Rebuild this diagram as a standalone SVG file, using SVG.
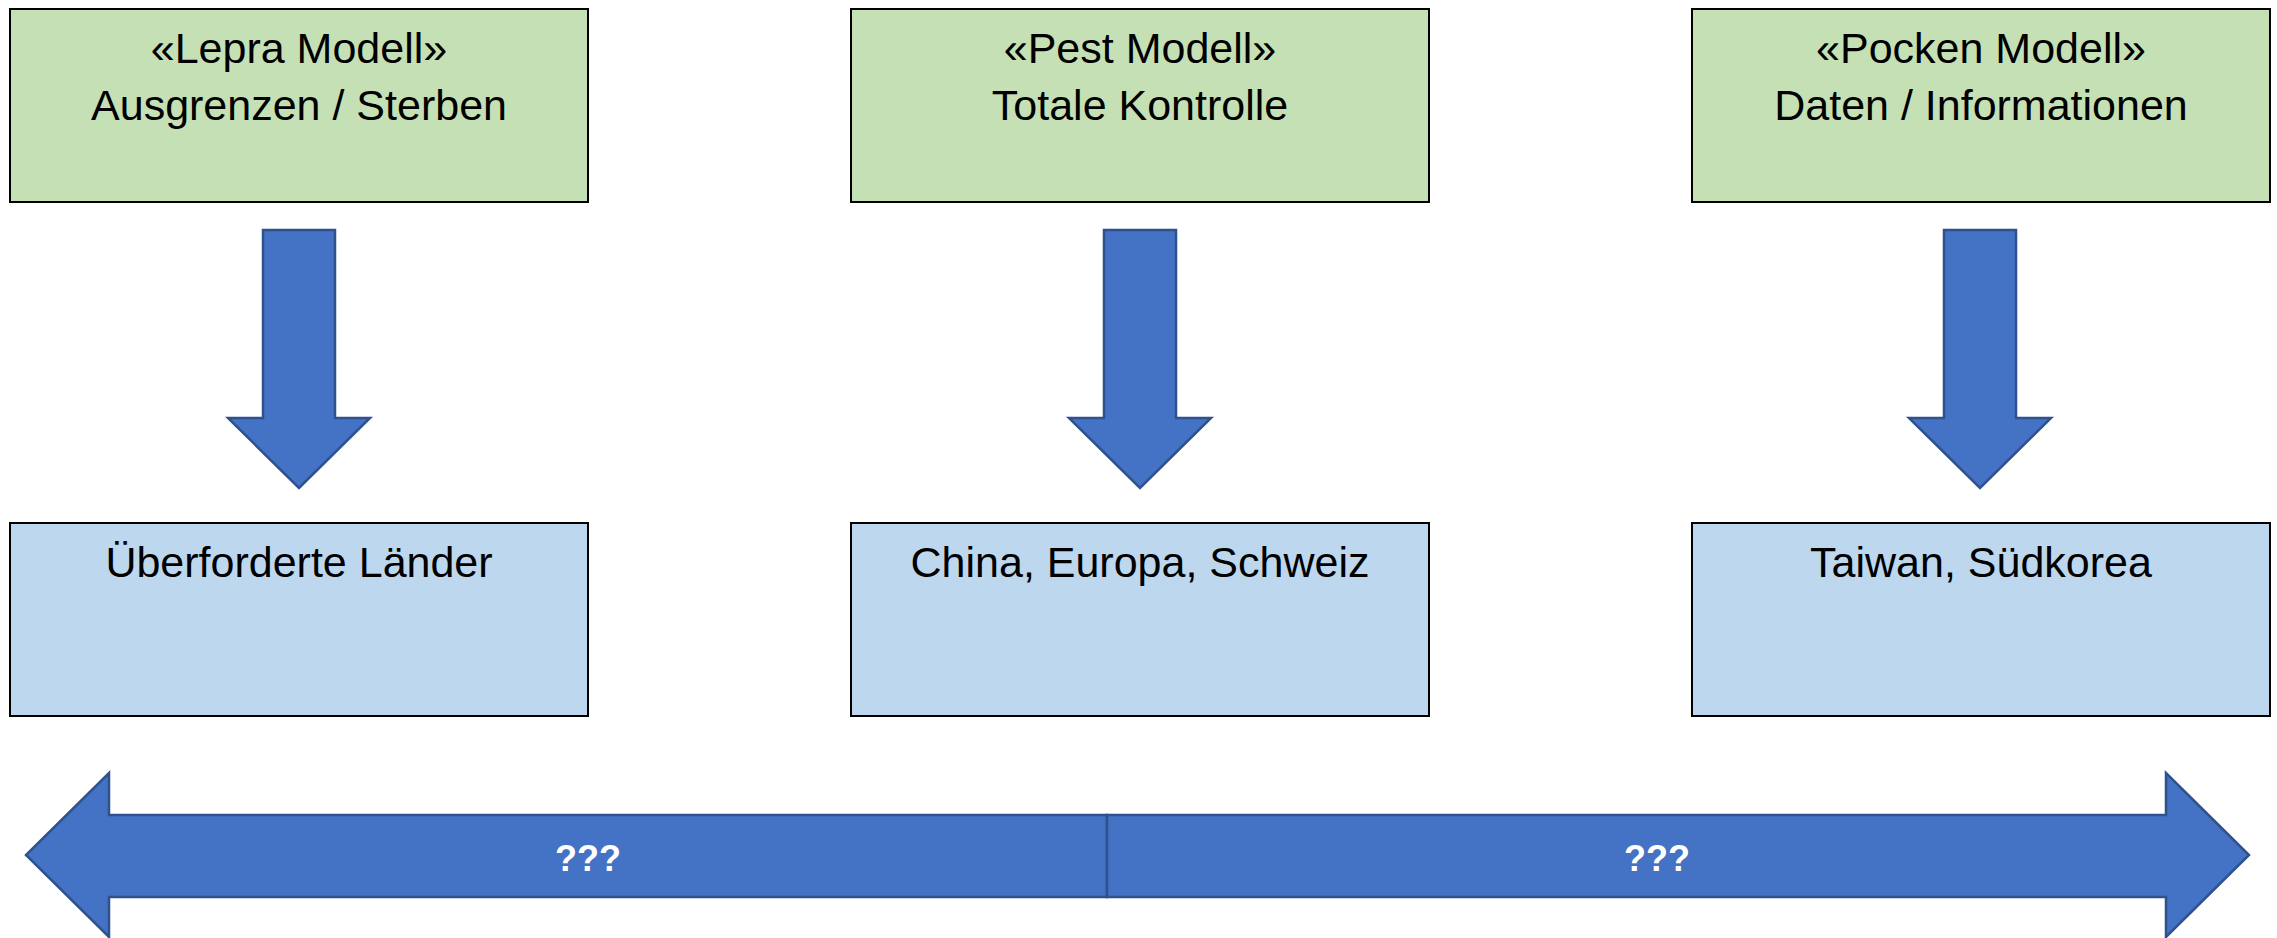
<svg xmlns="http://www.w3.org/2000/svg" width="2277" height="938" viewBox="0 0 2277 938">
<style>
.top{fill:#C5E0B4;stroke:#000;stroke-width:2}
.bot{fill:#BDD7EE;stroke:#000;stroke-width:2}
.arr{fill:#4472C4;stroke:#2F528F;stroke-width:2.5;stroke-linejoin:miter}
.t{font-family:"Liberation Sans",Arial,sans-serif;font-size:43px;fill:#000;text-anchor:middle}
.q{font-family:"Liberation Sans",Arial,sans-serif;font-size:36px;font-weight:bold;fill:#fff;text-anchor:middle}
</style>
<rect width="2277" height="938" fill="#fff"/>
<g id="lepra">
<rect class="top" x="10" y="9" width="578" height="193"/>
<text class="t" x="299" y="63">«Lepra Modell»</text>
<text class="t" x="299" y="120">Ausgrenzen / Sterben</text>
</g>
<g id="pest">
<rect class="top" x="851" y="9" width="578" height="193"/>
<text class="t" x="1140" y="63">«Pest Modell»</text>
<text class="t" x="1140" y="120">Totale Kontrolle</text>
</g>
<g id="pocken">
<rect class="top" x="1692" y="9" width="578" height="193"/>
<text class="t" x="1981" y="63">«Pocken Modell»</text>
<text class="t" x="1981" y="120">Daten / Informationen</text>
</g>
<g id="laender">
<rect class="bot" x="10" y="523" width="578" height="193"/>
<text class="t" x="299" y="577">Überforderte Länder</text>
</g>
<g id="china">
<rect class="bot" x="851" y="523" width="578" height="193"/>
<text class="t" x="1140" y="577">China, Europa, Schweiz</text>
</g>
<g id="taiwan">
<rect class="bot" x="1692" y="523" width="578" height="193"/>
<text class="t" x="1981" y="577">Taiwan, Südkorea</text>
</g>
<g id="connectors">
<path class="arr" d="M263,230 H335 V418 H370 L299,488 L228,418 H263 Z"/>
<path class="arr" d="M1104,230 H1176 V418 H1211 L1140,488 L1069,418 H1104 Z"/>
<path class="arr" d="M1944,230 H2016 V418 H2051 L1980,488 L1909,418 H1944 Z"/>
<path class="arr" d="M1107,815 H109 V773 L26,855 L109,937 V897 H1107 Z"/>
<path class="arr" d="M1107,815 H2166 V773 L2249,855 L2166,937 V897 H1107 Z"/>
<text class="q" x="588" y="871">???</text>
<text class="q" x="1657" y="871">???</text>
</g>
</svg>
